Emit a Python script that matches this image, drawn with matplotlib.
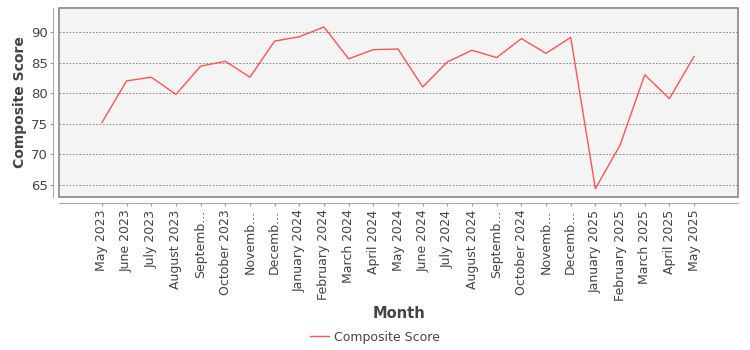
import numpy as np
import matplotlib
matplotlib.use("Agg")
import matplotlib.pyplot as plt
from matplotlib.patches import Rectangle

# data
months = ["May 2023", "June 2023", "July 2023", "August 2023", "Septemb...",
          "October 2023", "Novemb...", "Decemb...", "January 2024", "February 2024",
          "March 2024", "April 2024", "May 2024", "June 2024", "July 2024",
          "August 2024", "Septemb...", "October 2024", "Novemb...", "Decemb...",
          "January 2025", "February 2025", "March 2025", "April 2025", "May 2025"]
scores = [75.2, 82.0, 82.6, 79.8, 84.4, 85.2, 82.6, 88.5, 89.2, 90.8,
          85.6, 87.1, 87.2, 81.0, 85.1, 87.0, 85.8, 88.9, 86.5, 89.1,
          64.4, 71.5, 83.0, 79.1, 86.0]

fig = plt.figure(figsize=(7.5, 3.5), dpi=100)
ax = fig.add_axes([59 / 750, 1 - 197 / 350, 679 / 750, 189 / 350])
ax.set_facecolor("#f4f4f4")

x = np.arange(len(months))
line, = ax.plot(x, scores, color="#ff5555", linewidth=1, label="Composite Score")

ax.set_xlim(-1.74, 25.78)
ax.set_ylim(63.04, 93.9)
ax.set_yticks([65, 70, 75, 80, 85, 90])
ax.set_xticks(x)
ax.set_xticklabels(months)
ax.tick_params(axis="y", labelsize=9.5, labelcolor="#444444", length=2, color="#999999", pad=2)
ax.tick_params(axis="x", labelsize=9, labelcolor="#444444", labelrotation=90,
               length=2, color="#999999", pad=3)

ax.grid(axis="y", color="#777777", linestyle=(0, (2, 2)), linewidth=0.6)
ax.set_axisbelow(True)

# outline of plot area plus offset axis lines
for s in ["top", "right"]:
    ax.spines[s].set_visible(False)
for s in ["left", "bottom"]:
    ax.spines[s].set_position(("outward", 4))
    ax.spines[s].set_color("#aaaaaa")
ax.add_patch(Rectangle((0, 0), 1, 1, transform=ax.transAxes, fill=False,
                       edgecolor="#888888", linewidth=1.2, clip_on=False, zorder=5))

ax.set_ylabel("Composite Score", fontsize=10, fontweight="bold", color="#444444", labelpad=3)
fig.text(0.532, 1 - 313 / 350, "Month", fontsize=10.5, fontweight="bold",
         color="#444444", ha="center", va="center")

leg = fig.legend(handles=[line], loc="center", bbox_to_anchor=(0.5, 1 - 337 / 350),
                 frameon=False, fontsize=9, handlelength=1.5, handletextpad=0.4)
for t in leg.get_texts():
    t.set_color("#444444")

fig.savefig("out.png", dpi=100)
